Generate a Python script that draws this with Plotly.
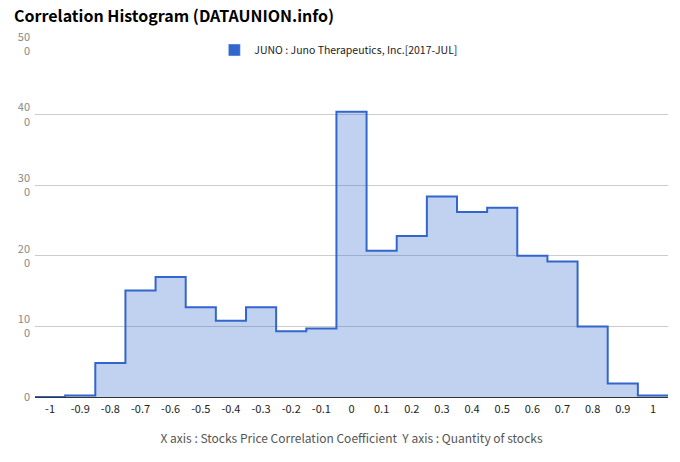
import plotly.graph_objects as go

# Data
bin_centers = [-1.0, -0.9, -0.8, -0.7, -0.6, -0.5, -0.4, -0.3, -0.2, -0.1,
               0.0, 0.1, 0.2, 0.3, 0.4, 0.5, 0.6, 0.7, 0.8, 0.9, 1.0]
counts = [0, 2, 48, 151, 170, 127, 108, 127, 93, 97,
          404, 207, 228, 284, 262, 268, 200, 192, 100, 19, 2]
x_tick_vals = [-1, -0.9, -0.8, -0.7, -0.6, -0.5, -0.4, -0.3, -0.2, -0.1,
               0, 0.1, 0.2, 0.3, 0.4, 0.5, 0.6, 0.7, 0.8, 0.9, 1]
x_tick_text = ["-1", "-0.9", "-0.8", "-0.7", "-0.6", "-0.5", "-0.4", "-0.3", "-0.2", "-0.1",
               "0", "0.1", "0.2", "0.3", "0.4", "0.5", "0.6", "0.7", "0.8", "0.9", "1"]
y_tick_vals = [0, 100, 200, 300, 400, 500]
y_tick_text = ["0", "10<br>0", "20<br>0", "30<br>0", "40<br>0", "50<br>0"]
series_name = "JUNO : Juno Therapeutics, Inc.[2017-JUL]"

half = 0.05
edges = [c - half for c in bin_centers] + [bin_centers[-1] + half]
step_y = counts + [counts[-1]]

FONT = "Noto Sans CJK KR"
# The page body has an 8px default margin, so the figure is slightly smaller
W, H = 672, 454

fig = go.Figure()
fig.add_trace(go.Scatter(
    x=edges, y=step_y, mode="lines", line_shape="hv",
    line=dict(color="#3366CC", width=2),
    fill="tozeroy", fillcolor="rgba(51,102,204,0.3)",
    showlegend=False, hoverinfo="skip"))
fig.add_trace(go.Bar(x=[None], y=[None], name=series_name,
                     marker_color="#3366CC", showlegend=True))

fig.update_layout(
    width=W, height=H,
    margin=dict(l=27, r=12, t=36, b=65),
    paper_bgcolor="white", plot_bgcolor="white",
    title=dict(text="<b>Correlation Histogram (DATAUNION.info)</b>",
               x=0.009, xanchor="left", y=0.993, yanchor="top",
               font=dict(family=FONT, size=16, color="#000"), automargin=False),
    font=dict(family=FONT),
    legend=dict(orientation="h", x=0.48, xanchor="center", y=0.983, yanchor="middle",
                font=dict(family=FONT, size=10.5, color="#222"),
                bgcolor="rgba(0,0,0,0)", itemwidth=30),
    xaxis=dict(range=[-1.05, 1.05], tickvals=x_tick_vals, ticktext=x_tick_text,
               showgrid=False, zeroline=False, showline=True, linecolor="#333",
               linewidth=1, ticks="", automargin=False, ticklabelstandoff=2,
               tickfont=dict(family=FONT, size=11, color="#222"),
               title=dict(text="X axis : Stocks Price Correlation Coefficient  Y axis : Quantity of stocks",
                          font=dict(family=FONT, size=12, color="#555"), standoff=19)),
    yaxis=dict(range=[0, 500], tickvals=y_tick_vals, ticktext=y_tick_text,
               showgrid=True, gridcolor="#cccccc", zeroline=False, automargin=False,
               tickfont=dict(family=FONT, size=11, color="#888"), ticks="",
               ticklabelstandoff=4),
)

fig.write_html("out.html")
